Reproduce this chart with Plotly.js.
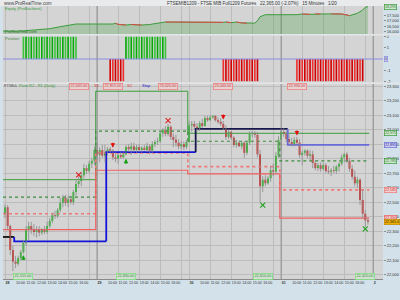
<!DOCTYPE html>
<html>
<head>
<meta charset="utf-8">
<script src="https://cdn.plot.ly/plotly-3.0.1.min.js"></script>
<style>
html,body{margin:0;padding:0;background:#d3e2ea;overflow:hidden}
#chart{width:400px;height:300px}
</style>
</head>
<body>
<div id="chart"></div>
<script>
// ===== values =====
const dayLabels = ['28', '29', '30', '01', '2'];
const dayStartBars = [0, 35, 70, 105, 140];
const hourLabels = ['10:00', '11:00', '12:00', '13:00', '14:00', '15:00', '16:00'];
const priceTicks = [22000, 22100, 22200, 22300, 22400, 22500, 22600, 22700, 22800, 22900, 23000, 23100, 23200, 23300];
const equityTicks = [16000, 16500, 17000, 17500];
const positionTicks = [-2, -1, 1, 2];

// 15-minute candles (4 sessions)
const openP = [
22420,22465,22335,22170,22090,22075,22115,22155,22220,22310,
22335,22315,22295,22310,22290,22310,22295,22335,22370,22410,
22405,22445,22495,22530,22495,22520,22500,22570,22625,22645,
22685,22735,22715,22765,22785,
22860,22825,22860,22820,22845,22865,22855,22810,22800,22825,
22810,22830,22880,22865,22885,22860,22880,22860,22875,22860,
22885,22855,22900,22915,22920,22975,23000,22970,23020,22950,
22930,22910,22885,22900,22880,
22915,23030,23040,23020,23005,23045,23025,23080,23065,23085,
23095,23065,23055,23040,23010,22950,22985,22945,22895,22910,
22885,22910,22840,22910,22970,22975,22965,22830,22610,22655,
22630,22665,22720,22710,22820,
22930,22985,22970,22935,22915,22900,22930,22910,22825,22840,
22855,22820,22830,22770,22735,22755,22730,22755,22715,22710,
22720,22715,22745,22765,22810,22830,22785,22730,22675,22630,
22655,22515,22420,22375];
const highP = [
22485,22480,22345,22200,22130,22130,22170,22240,22335,22365,
22365,22350,22335,22335,22320,22335,22365,22390,22425,22440,
22460,22530,22550,22550,22545,22545,22585,22655,22680,22710,
22765,22755,22785,22805,22885,
22915,22880,22895,22895,22880,22880,22865,22845,22840,22845,
22845,22895,22900,22910,22910,22895,22900,22885,22895,22910,
22900,22920,22930,22945,22990,23010,23025,23040,23030,22975,
22965,22935,22920,22920,22930,
23060,23060,23060,23045,23060,23075,23095,23095,23100,23100,
23100,23085,23080,23060,23030,23000,22990,22955,22930,22920,
22920,22920,22920,22990,22990,22990,22985,22860,22680,22685,
22680,22750,22765,22845,22955,
23010,23010,22990,22965,22945,22950,22950,22935,22855,22865,
22865,22860,22855,22790,22770,22775,22770,22770,22750,22735,
22750,22755,22775,22830,22840,22845,22805,22755,22720,22675,
22665,22585,22445,22390];
const lowP = [
22390,22310,22135,22025,22045,22060,22100,22145,22200,22240,
22280,22265,22255,22265,22275,22280,22280,22320,22355,22385,
22390,22430,22465,22475,22465,22485,22480,22545,22600,22610,
22665,22695,22700,22735,22755,
22790,22775,22805,22775,22825,22840,22790,22775,22765,22800,
22800,22820,22845,22825,22845,22840,22845,22840,22855,22845,
22830,22840,22880,22895,22910,22950,22955,22955,22930,22880,
22885,22865,22865,22860,22865,
22910,22985,23000,22985,22990,23010,23020,23055,23060,23075,
23055,23040,23025,23000,22930,22935,22930,22880,22875,22880,
22865,22805,22825,22895,22950,22945,22810,22500,22570,22610,
22620,22640,22680,22695,22805,
22860,22950,22915,22900,22885,22885,22895,22805,22755,22820,
22805,22790,22735,22720,22715,22710,22720,22700,22695,22680,
22700,22695,22710,22750,22775,22770,22710,22655,22610,22600,
22480,22390,22330,22345];
const closeP = [
22465,22335,22170,22090,22075,22115,22155,22220,22310,22335,
22315,22295,22310,22290,22310,22295,22335,22370,22410,22405,
22445,22495,22530,22495,22520,22500,22570,22625,22645,22685,
22735,22715,22765,22785,22860,
22825,22860,22820,22845,22865,22855,22810,22800,22825,22810,
22830,22880,22865,22885,22860,22880,22860,22875,22860,22885,
22855,22900,22915,22920,22975,23000,22970,23020,22950,22930,
22910,22885,22900,22880,22915,
23030,23040,23020,23005,23045,23025,23080,23065,23085,23095,
23065,23055,23040,23010,22950,22985,22945,22895,22910,22885,
22910,22840,22910,22970,22975,22965,22830,22610,22655,22630,
22665,22720,22710,22820,22930,
22985,22970,22935,22915,22900,22930,22910,22825,22840,22855,
22820,22830,22770,22735,22755,22730,22755,22715,22710,22720,
22715,22745,22765,22810,22830,22785,22730,22675,22630,22655,
22515,22420,22375,22365];

// daily pivot levels (one value per session)
const r2Level = [22655, 23265, 22975, 22975];
const r1Level = [22535, 22990, 22920, 22785];
const s1Level = [22420, 22840, 22745, 22585];
const s2Level = [22310, 22720, 22695, 22390];

// stop line
const stopLevels = [22260, 22230, 22845, 23005, 22895];
const stopChangeBars = [3.5, 38.5, 72.5, 107.5];

// trades
const tradeFrom = [7, 40, 46, 83, 111];
const tradeTo = [27, 45, 61, 96, 136];
const tradeQty = [2, -2, 2, -2, -2];
const sellBars = [28, 41, 62, 83, 111];
const sellPrices = [22645, 22855, 23020, 23040, 22930];
const buyBars = [7, 46, 98, 137];
const buyPrices = [22155, 22830, 22610, 22420];
const shortEntryBars = [41, 83, 111];
const shortEntryMarks = [22875, 23070, 22960];
const longEntryBars = [7, 46];
const longEntryMarks = [22135, 22800];
const longExitBars = [28, 62];
const longExitMarks = [22688, 23062];
const shortExitBars = [98, 137];
const shortExitMarks = [22480, 22315];

// equity curve
const eqBar = [-1,6,11,14,17,21,24,27,41,42,43,46,48,50,52,55,56,59,60,61,83,84,86,88,90,92,94,95,96,97,98,99,111,113,116,118,120,124,128,130,131,134,135,136,137,138];
const eqVal = [16045,16045,16140,16205,16260,16445,16575,16695,16695,16760,16665,16600,16650,16620,16600,16650,16695,16785,16815,16880,16850,16880,16820,16870,16800,16760,16780,16780,17000,17370,17465,17555,17555,17620,17590,17640,17620,17630,17620,17530,17465,17685,17835,17990,18240,18295];

// ===== build =====
const N = closeP.length;
const lastBar = N - 1;
const xMin = -0.76, xMax = 143.73;
const xs = closeP.map((_, i) => i);
const FONT = 'Liberation Sans, Arial, sans-serif';

// x ticks
const tickvals = [], ticktext = [], gridvals = [];
dayStartBars.forEach((s, k) => {
  tickvals.push(s); ticktext.push('<b>' + dayLabels[k] + '</b>');
  if (k < dayStartBars.length - 1) {
    hourLabels.forEach((h, j) => { tickvals.push(s + 4 * (j + 1)); ticktext.push(h); });
    for (let g = 0; g <= 32; g += 8) gridvals.push(s + g);
  } else gridvals.push(s);
});

// candles
const wx = [], wy = [];
const bBase = [], bH = [], bCol = [];
for (let i = 0; i < N; i++) {
  wx.push(i, i, null); wy.push(lowP[i], highP[i], null);
  let lo = Math.min(openP[i], closeP[i]), hi = Math.max(openP[i], closeP[i]);
  if (hi - lo < 6) { const m = (hi + lo) / 2; lo = m - 3; hi = m + 3; }
  bBase.push(lo); bH.push(hi - lo);
  bCol.push(closeP[i] >= openP[i] ? '#16c416' : '#d81c1c');
}

// step levels
const edges = [xMin, dayStartBars[1] - 0.5, dayStartBars[2] - 0.5, dayStartBars[3] - 0.5, lastBar + 0.5];
function stepXY(levels) {
  const x = [], y = [];
  levels.forEach((v, k) => { x.push(edges[k], edges[k + 1]); y.push(v, v); });
  return {x, y};
}
function lvlTrace(levels, color, dash, width) {
  const s = stepXY(levels);
  return {type: 'scatter', mode: 'lines', x: s.x, y: s.y, xaxis: 'x', yaxis: 'y',
    line: {color, dash, width}, hoverinfo: 'skip'};
}

// stop segments
const stopColors = ['#111111', '#1414d8', '#1414d8', '#18184c', '#6a6ad8'];
const stopTraces = stopLevels.map((L, k) => {
  const start = k === 0 ? xMin : stopChangeBars[k - 1];
  const end = k === stopLevels.length - 1 ? lastBar + 0.5 : stopChangeBars[k];
  const x = k === 0 ? [start, end] : [start, start, end];
  const y = k === 0 ? [L, L] : [stopLevels[k - 1], L, L];
  return {type: 'scatter', mode: 'lines', x, y, xaxis: 'x', yaxis: 'y',
    line: {color: stopColors[k], width: 1.8}, hoverinfo: 'skip'};
});

// positions
const pos = closeP.map(() => 0);
tradeFrom.forEach((f, k) => { for (let i = f; i <= tradeTo[k]; i++) pos[i] = tradeQty[k]; });
const posCol = pos.map((v, i) => v > 0 ? (i % 2 ? '#3cc43c' : '#08a808') : (i % 2 ? '#f03030' : '#d00000'));

// equity red segments
const redX = [], redY = [];
for (let k = 1; k < eqBar.length; k++) {
  if (eqVal[k] < eqVal[k - 1]) { redX.push(eqBar[k - 1], eqBar[k], null); redY.push(eqVal[k - 1], eqVal[k], null); }
}

// day separator lines per panel
function dayLines(yaxis, y0, y1) {
  const x = [], y = [];
  [dayStartBars[1], dayStartBars[3], dayStartBars[4]].forEach(b => { x.push(b, b, null); y.push(y0, y1, null); });
  return {type: 'scatter', mode: 'lines', x, y, xaxis: 'x', yaxis, line: {color: '#8e8e8e', width: 1}, hoverinfo: 'skip'};
}

const mainRange = [21970, 23315];
const eqRange = [15770, 18360];
const posRange = [-2.11, 2.11];

const traces = [
  dayLines('y', mainRange[0], mainRange[1]),
  dayLines('y2', posRange[0], posRange[1]),
  dayLines('y3', eqRange[0], eqRange[1]),
  lvlTrace(r2Level, '#3c9c3c', 'solid', 1),
  lvlTrace(r1Level, '#3c8c3c', 'dot', 1.2),
  lvlTrace(s1Level, '#f07878', 'dot', 1.6),
  lvlTrace(s2Level, '#f06060', 'solid', 1.2),
  ...stopTraces,
  {type: 'scatter', mode: 'lines', x: wx, y: wy, xaxis: 'x', yaxis: 'y',
    line: {color: '#8a8a8a', width: 0.8}, hoverinfo: 'skip', connectgaps: false},
  {type: 'bar', x: xs, y: bH, base: bBase, xaxis: 'x', yaxis: 'y', width: 0.7,
    marker: {color: bCol, line: {width: 0}}, hoverinfo: 'skip'},
  {type: 'scatter', mode: 'markers', x: longExitBars, y: longExitMarks, xaxis: 'x', yaxis: 'y',
    marker: {symbol: 'x-thin-open', size: 5, color: '#e02020', line: {width: 1.1, color: '#e02020'}}},
  {type: 'scatter', mode: 'markers', x: shortExitBars, y: shortExitMarks, xaxis: 'x', yaxis: 'y',
    marker: {symbol: 'x-thin-open', size: 5, color: '#20a020', line: {width: 1.1, color: '#20a020'}}},
  // position panel
  {type: 'bar', x: xs, y: pos, xaxis: 'x', yaxis: 'y2', width: 0.62,
    marker: {color: posCol, line: {width: 0}}, hoverinfo: 'skip'},
  // equity panel
  {type: 'scatter', mode: 'lines', x: eqBar, y: eqVal, xaxis: 'x', yaxis: 'y3',
    fill: 'tozeroy', fillcolor: 'rgba(70,160,70,0.30)', line: {color: '#3a9c3a', width: 1}},
  {type: 'scatter', mode: 'lines', x: redX, y: redY, xaxis: 'x', yaxis: 'y3',
    line: {color: '#e04848', width: 1}, connectgaps: false}
];

const px2x = px => (px - 3) / 380;
const py2y = py => (279 - py) / 273;
const fmt = v => v.toLocaleString('en-US');
const fmt2 = v => v.toLocaleString('en-US', {minimumFractionDigits: 2, maximumFractionDigits: 2});

const ann = [];
function txt(x, y, text, color, size, bold) {
  ann.push({xref: 'paper', yref: 'paper', x: px2x(x), y: py2y(y), xanchor: 'left', yanchor: 'middle',
    text: bold ? '<b>' + text + '</b>' : text, showarrow: false, font: {family: FONT, size: size || 4.5, color}});
}
txt(2, 3, 'www.ProRealTime.com', '#444', 4.6);
txt(165, 3, 'FTSEMIB1209 - FTSE MIB Full1209 Futures&nbsp;&nbsp;&nbsp;22,365.00 (-2.07%)&nbsp;&nbsp;&nbsp;15 Minutes&nbsp;&nbsp;&nbsp;1/20', '#333', 4.5);
txt(3, 9, 'Equity (ProBacktest)', '#3a9a3a', 4);
txt(3, 31.5, 'ProRealTime.com', '#2f6f2f', 4);
txt(3, 38, 'Position', '#4a8a4a', 4);
txt(2, 85.8, 'FTSE∆', '#555', 4);
txt(17, 85.8, 'Pivot R2 - R1 (Daily)', '#3a9a3a', 4);
txt(92, 85.8, 'S1', '#e04040', 4);
txt(125, 85.8, 'S2', '#e04040', 4);
txt(140, 85.8, 'Stop', '#2020d0', 4);

// order price labels
sellBars.forEach((b, k) => ann.push({xref: 'x', yref: 'paper', x: b, y: py2y(86.8), xanchor: 'center', yanchor: 'middle',
  text: fmt2(sellPrices[k]), showarrow: false, font: {family: FONT, size: 3.8, color: '#d03030'},
  bgcolor: '#e4d4d4', bordercolor: '#f08080', borderwidth: 0.8, borderpad: 0.6}));
buyBars.forEach((b, k) => ann.push({xref: 'x', yref: 'paper', x: b, y: py2y(276), xanchor: 'center', yanchor: 'middle',
  text: fmt2(buyPrices[k]), showarrow: false, font: {family: FONT, size: 3.8, color: '#309030'},
  bgcolor: '#d4e0d4', bordercolor: '#80e080', borderwidth: 0.8, borderpad: 0.6}));

// entry arrows
shortEntryBars.forEach((b, k) => ann.push({xref: 'x', yref: 'y', x: b, y: shortEntryMarks[k], text: ' ',
  showarrow: true, ax: 0, ay: -7, arrowhead: 2, arrowsize: 0.7, arrowwidth: 1.3, arrowcolor: '#e01010', font: {size: 1}}));
longEntryBars.forEach((b, k) => ann.push({xref: 'x', yref: 'y', x: b, y: longEntryMarks[k], text: ' ',
  showarrow: true, ax: 0, ay: 7, arrowhead: 2, arrowsize: 0.7, arrowwidth: 1.3, arrowcolor: '#18a018', font: {size: 1}}));

// right-side value boxes
function box(yref, v, text, bg, border, color) {
  ann.push({xref: 'paper', yref, x: 1, xshift: 1, y: v, xanchor: 'left', yanchor: 'middle', text,
    showarrow: false, font: {family: FONT, size: 3.6, color}, bgcolor: bg, bordercolor: border, borderwidth: 0.7, borderpad: 0.2});
}
box('y3', eqVal[eqVal.length - 1], fmt(eqVal[eqVal.length - 1]), '#cfe6cf', '#3a9a3a', '#2a7a2a');
box('y2', 0, '0', '#cfd0f0', '#8c8ce6', '#333');
box('y', r2Level[3], fmt(r2Level[3]), '#cfe6cf', '#3a9a3a', '#2a7a2a');
box('y', stopLevels[4], fmt(stopLevels[4]), '#cfd0f0', '#6a6ad8', '#2020a0');
box('y', r1Level[3], fmt(r1Level[3]), '#cfe6cf', '#3a9a3a', '#2a7a2a');
box('y', s1Level[3], fmt(s1Level[3]), '#f4d0d0', '#f07878', '#d03030');
box('y', s2Level[3], fmt(s2Level[3]), '#f4d0d0', '#f06060', '#d03030');
box('y', closeP[lastBar], fmt2(closeP[lastBar]).slice(0, -1), '#f0b000', '#c08800', '#222');

const axY = {side: 'right', anchor: 'x', ticks: 'outside', ticklen: 2, tickwidth: 0.6, tickcolor: '#555',
  tickfont: {family: FONT, size: 4, color: '#333'}, zeroline: false, showline: false, fixedrange: true};

const layout = {
  width: 400, height: 300,
  margin: {l: 3, r: 17, t: 6, b: 21, pad: 0},
  paper_bgcolor: '#d3e2ea', plot_bgcolor: '#d4d4d4',
  showlegend: false, barmode: 'overlay',
  font: {family: FONT, size: 4.5, color: '#333'},
  xaxis: {domain: [0, 1], range: [xMin, xMax], anchor: 'y', tickmode: 'array', tickvals, ticktext,
    tickangle: 0, ticklabelposition: 'outside right', tickfont: {family: FONT, size: 3.6, color: '#333'},
    showgrid: false, zeroline: false, showline: true, linecolor: '#8a8a8a', linewidth: 1, ticks: '',
    minor: {tickmode: 'array', tickvals: gridvals, showgrid: true, gridcolor: '#bcbcbc', gridwidth: 1, ticks: ''}},
  yaxis: Object.assign({}, axY, {domain: [0, 0.7143], range: mainRange, tickmode: 'array', tickvals: priceTicks,
    tickformat: ',d', showgrid: true, gridcolor: '#bcbcbc', gridwidth: 1}),
  yaxis2: Object.assign({}, axY, {domain: [0.7198, 0.8919], range: posRange, tickmode: 'array', tickvals: positionTicks,
    ticktext: positionTicks.map(String), showgrid: false}),
  yaxis3: Object.assign({}, axY, {domain: [0.8974, 1], range: eqRange, tickmode: 'array', tickvals: equityTicks,
    tickformat: ',d', showgrid: false}),
  shapes: [
    {type: 'rect', xref: 'paper', yref: 'paper', x0: -0.02, x1: 1.06, y0: 1.0, y1: 1.03, fillcolor: '#e8eaec', line: {width: 0}},
    {type: 'rect', xref: 'paper', yref: 'paper', x0: -0.02, x1: 1.06, y0: 0.8919, y1: 0.8974, fillcolor: '#e2e4e6', line: {width: 0}},
    {type: 'rect', xref: 'paper', yref: 'paper', x0: -0.02, x1: 1.06, y0: 0.7143, y1: 0.7198, fillcolor: '#e2e4e6', line: {width: 0}},
    {type: 'line', xref: 'paper', yref: 'y2', x0: 0, x1: 1.0, y0: 0, y1: 0, line: {color: '#8c8ce6', width: 1}}
  ],
  annotations: ann
};

Plotly.newPlot('chart', traces, layout, {staticPlot: true, displayModeBar: false});
</script>
</body>
</html>
